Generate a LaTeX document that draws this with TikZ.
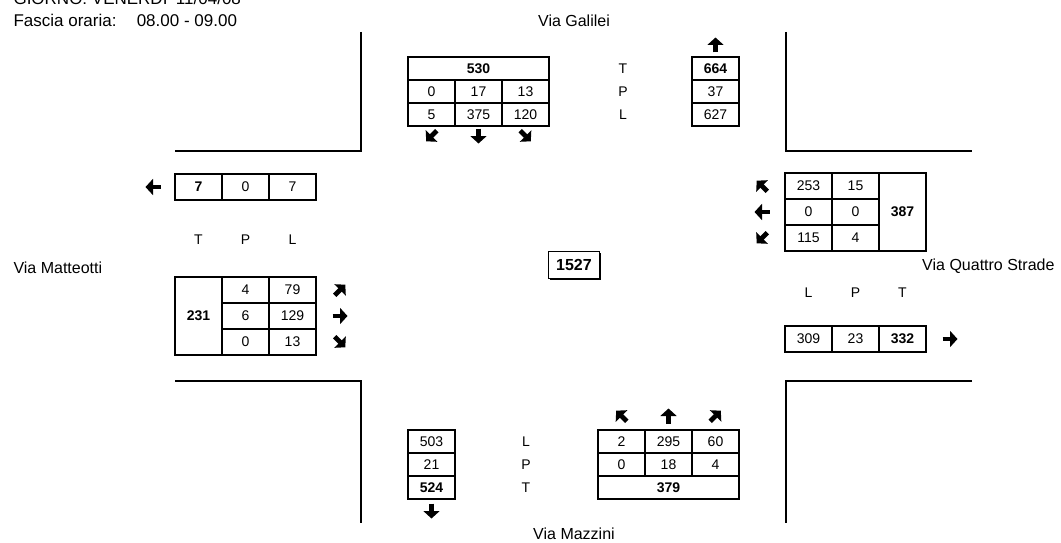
\documentclass[tikz,border=0pt]{standalone}
\usepackage{fontspec}
\setmainfont{Liberation Sans}
\usetikzlibrary{arrows.meta,shadows}

\tikzset{
  road/.style={line width=2.5pt, line join=miter},
  cell/.style={draw, line width=1.8pt, inner sep=0pt, minimum width=47pt, minimum height=23pt, font=\fontsize{14}{16}\selectfont},
  side/.style={cell, minimum height=26pt},
  tot/.style={font=\bfseries\fontsize{14}{16}\selectfont},
  lbl/.style={font=\fontsize{16}{18}\selectfont},
  colhead/.style={font=\fontsize{14}{16}\selectfont},
  flow/.pic={\draw[line width=4.8pt, -{Triangle[length=7.5pt,width=16pt]}] (-7.5,0) -- (7.5,0);}
}

\begin{document}
\begin{tikzpicture}[x=1pt, y=-1pt]
        \useasboundingbox (0,0) rectangle (1061,543);
        % header
        \node[font=\fontsize{17}{20}\selectfont, anchor=base west] (day) at (10,5) {GIORNO: VENERDI' 11/04/08};
        \node[font=\fontsize{17}{20}\selectfont, anchor=base west] (hour) at (10,26.7) {Fascia oraria:\hspace{14pt} 08.00 - 09.00};
        % streets
        \draw[road] (361,32) -- (361,151) -- (175,151);
        \draw[road] (786,32) -- (786,151) -- (972,151);
        \draw[road] (175,381) -- (361,381) -- (361,523);
        \draw[road] (972,381) -- (786,381) -- (786,523);
        \node[lbl, anchor=base] (galilei) at (574,26.7) {Via Galilei};
        \node[lbl, anchor=west] (matteotti) at (10,268) {Via Matteotti};
        \node[lbl, anchor=east] (quattro) at (1058,266) {Via Quattro Strade};
        \node[lbl] (mazzini) at (574,534) {Via Mazzini};
        % Via Galilei
        \node[cell, tot, minimum width=141pt] (nT) at (478.5,68.5) {530};
        \node[cell] (nP1) at (431.5,91.5) {0};
        \node[cell] (nP2) at (478.5,91.5) {17};
        \node[cell] (nP3) at (525.5,91.5) {13};
        \node[cell] (nL1) at (431.5,114.5) {5};
        \node[cell] (nL2) at (478.5,114.5) {375};
        \node[cell] (nL3) at (525.5,114.5) {120};
        \pic[rotate=-135] at (431.5,136) {flow};
        \pic[rotate=-90] at (478.5,136) {flow};
        \pic[rotate=-45] at (525.5,136) {flow};
        \node[colhead] (nhT) at (623,68.5) {T};
        \node[colhead] (nhP) at (623,91.5) {P};
        \node[colhead] (nhL) at (623,114.5) {L};
        \node[cell, tot] (noT) at (715.5,68.5) {664};
        \node[cell] (noP) at (715.5,91.5) {37};
        \node[cell] (noL) at (715.5,114.5) {627};
        \pic[rotate=90] at (715.5,45) {flow};
        % Via Matteotti
        \node[side, tot] (woT) at (198.5,187) {7};
        \node[side] (woP) at (245.5,187) {0};
        \node[side] (woL) at (292.5,187) {7};
        \pic[rotate=180] at (153,187) {flow};
        \node[colhead] (whT) at (198.5,240) {T};
        \node[colhead] (whP) at (245.5,240) {P};
        \node[colhead] (whL) at (292.5,240) {L};
        \node[side, tot, minimum height=78pt] (wT) at (198.5,316) {231};
        \node[side] (wP1) at (245.5,290) {4};
        \node[side] (wL1) at (292.5,290) {79};
        \node[side] (wP2) at (245.5,316) {6};
        \node[side] (wL2) at (292.5,316) {129};
        \node[side] (wP3) at (245.5,342) {0};
        \node[side] (wL3) at (292.5,342) {13};
        \pic[rotate=45] at (340,290) {flow};
        \pic at (340,316) {flow};
        \pic[rotate=-45] at (340,342) {flow};
        % Via Quattro Strade
        \node[side] (eL1) at (808.5,186) {253};
        \node[side] (eP1) at (855.5,186) {15};
        \node[side] (eL2) at (808.5,212) {0};
        \node[side] (eP2) at (855.5,212) {0};
        \node[side] (eL3) at (808.5,238) {115};
        \node[side] (eP3) at (855.5,238) {4};
        \node[side, tot, minimum height=78pt] (eT) at (902.5,212) {387};
        \pic[rotate=135] at (762,186) {flow};
        \pic[rotate=180] at (762,212) {flow};
        \pic[rotate=-135] at (762,238) {flow};
        \node[colhead] (ehL) at (808.5,293) {L};
        \node[colhead] (ehP) at (855.5,293) {P};
        \node[colhead] (ehT) at (902.5,293) {T};
        \node[side] (eoL) at (808.5,339) {309};
        \node[side] (eoP) at (855.5,339) {23};
        \node[side, tot] (eoT) at (902.5,339) {332};
        \pic at (950,339) {flow};
        % Via Mazzini
        \node[cell] (soL) at (431.5,441.5) {503};
        \node[cell] (soP) at (431.5,464.5) {21};
        \node[cell, tot] (soT) at (431.5,487.5) {524};
        \pic[rotate=-90] at (431.5,511) {flow};
        \node[colhead] (shL) at (526,441.5) {L};
        \node[colhead] (shP) at (526,464.5) {P};
        \node[colhead] (shT) at (526,487.5) {T};
        \node[cell] (sL1) at (621.5,441.5) {2};
        \node[cell] (sL2) at (668.5,441.5) {295};
        \node[cell] (sL3) at (715.5,441.5) {60};
        \node[cell] (sP1) at (621.5,464.5) {0};
        \node[cell] (sP2) at (668.5,464.5) {18};
        \node[cell] (sP3) at (715.5,464.5) {4};
        \node[cell, tot, minimum width=141pt] (sT) at (668.5,487.5) {379};
        \pic[rotate=135] at (621.5,416) {flow};
        \pic[rotate=90] at (668.5,416) {flow};
        \pic[rotate=45] at (715.5,416) {flow};
        % total of the crossing
        \node[cell, minimum width=51pt, minimum height=27pt, fill=white, font=\bfseries\fontsize{16}{18}\selectfont,
              drop shadow={shadow xshift=1.5pt, shadow yshift=-1.5pt, fill=black, opacity=1}] (total) at (574,265) {1527};
    \end{tikzpicture}
\end{document}
